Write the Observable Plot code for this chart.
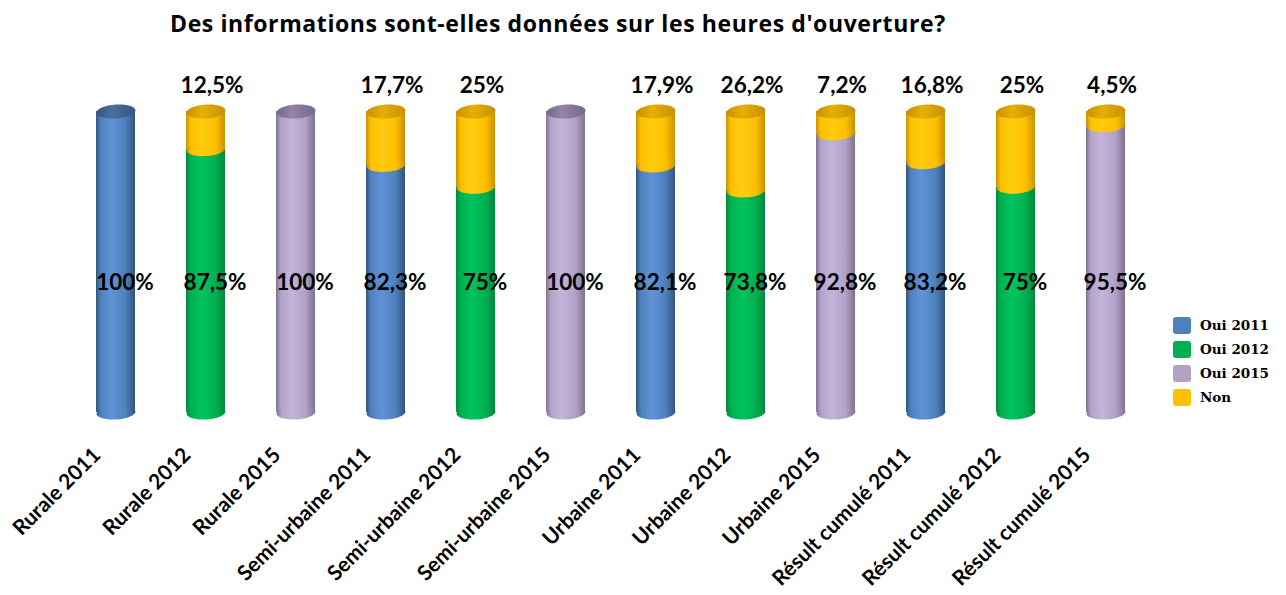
<!DOCTYPE html>
<html>
<head>
<meta charset="utf-8">
<script src="https://cdn.jsdelivr.net/npm/d3@7"></script>
<script src="https://cdn.jsdelivr.net/npm/@observablehq/plot@0.6"></script>
<style>
  html, body { margin: 0; padding: 0; background: #fff; }
  #wrap { position: relative; width: 1286px; height: 595px; overflow: hidden; }
  #title { position: absolute; left: 170px; top: 7px; font-family: "Open Sans", Lato, sans-serif; font-weight: 700; font-size: 23px; letter-spacing: 0.6px; color: #000; white-space: nowrap; }
  #chart { position: absolute; left: 0; top: 50px; }
  #legend { position: absolute; left: 1173px; top: 313px; font-family: "DejaVu Serif", "Liberation Serif", serif; font-weight: 700; font-size: 13.5px; color: #000; }
  .li { display: flex; align-items: center; height: 24px; }
  .sw { width: 18px; height: 17px; border-radius: 3px; margin-right: 9px; }
</style>
</head>
<body>
<div id="wrap">
  <div id="title">Des informations sont-elles données sur les heures d'ouverture?</div>
  <div id="chart"></div>
  <div id="legend"></div>
</div>
<script>
const categories = ["Rurale 2011", "Rurale 2012", "Rurale 2015", "Semi-urbaine 2011", "Semi-urbaine 2012", "Semi-urbaine 2015", "Urbaine 2011", "Urbaine 2012", "Urbaine 2015", "Résult cumulé 2011", "Résult cumulé 2012", "Résult cumulé 2015"];
const ouiSeries = ["Oui 2011", "Oui 2012", "Oui 2015", "Oui 2011", "Oui 2012", "Oui 2015", "Oui 2011", "Oui 2012", "Oui 2015", "Oui 2011", "Oui 2012", "Oui 2015"];
const ouiValues = [100, 87.5, 100, 82.3, 75, 100, 82.1, 73.8, 92.8, 83.2, 75, 95.5];
const nonValues = [0, 12.5, 0, 17.7, 25, 0, 17.9, 26.2, 7.2, 16.8, 25, 4.5];
const legendSeries = ["Oui 2011", "Oui 2012", "Oui 2015", "Non"];

const palette = {
  "Oui 2011": {base: "#4f81bd", dark: "#30557f", light: "#5f93d6", cap: "#4a6fa0", capDark: "#36557d"},
  "Oui 2012": {base: "#00b050", dark: "#008a3c", light: "#00c45e", cap: "#00a04a", capDark: "#007e38"},
  "Oui 2015": {base: "#b3a2c7", dark: "#7f7190", light: "#c4b4d9", cap: "#9384a8", capDark: "#76688a"},
  "Non":      {base: "#ffc000", dark: "#c99200", light: "#ffcc10", cap: "#e8b000", capDark: "#c49000"}
};
const gid = s => "g" + s.replace(/\s/g, "");

const fmt = v => String(v).replace(".", ",") + "%";

const rows = categories.map((c, i) => ({
  cat: c, series: ouiSeries[i], oui: ouiValues[i], non: nonValues[i]
}));
const nonRows = rows.filter(d => d.non > 0);

const RX = 19.5, RY = 7, TILT = -4 * Math.PI / 180;
const ellipse = {
  draw(ctx) {
    const k = 0.5523, rx = RX, ry = RY;
    const c = Math.cos(TILT), s = Math.sin(TILT);
    const P = (x, y) => [x * c - y * s, x * s + y * c];
    const m = P(rx, 0);
    ctx.moveTo(m[0], m[1]);
    const seg = (a, b, e) => { const A = P(...a), B = P(...b), E = P(...e); ctx.bezierCurveTo(A[0], A[1], B[0], B[1], E[0], E[1]); };
    seg([rx, ry * k], [rx * k, ry], [0, ry]);
    seg([-rx * k, ry], [-rx, ry * k], [-rx, 0]);
    seg([-rx, -ry * k], [-rx * k, -ry], [0, -ry]);
    seg([rx * k, -ry], [rx, -ry * k], [rx, 0]);
    ctx.closePath();
  }
};

const labelFont = {fontFamily: "Lato, 'Open Sans', sans-serif", fontWeight: 700, fontSize: 22.5, fill: "#000"};

const chart = Plot.plot({
  width: 1286,
  height: 545,
  marginLeft: 48,
  marginRight: 114,
  marginTop: 61,
  marginBottom: 183,
  style: {background: "transparent", overflow: "visible"},
  x: {domain: categories, paddingInner: 0.569, paddingOuter: 0.5, label: null},
  y: {domain: [0, 100], axis: null},
  color: {type: "identity"},
  marks: [
    // Oui bodies
    Plot.barY(rows, {x: "cat", y1: 0, y2: "oui", fill: d => `url(#${gid(d.series)})`}),
    Plot.dot(rows, {x: "cat", y: () => 0, symbol: ellipse, fill: d => `url(#${gid(d.series)})`}),
    // Non bodies
    Plot.barY(nonRows, {x: "cat", y1: "oui", y2: d => d.oui + d.non, fill: () => `url(#${gid("Non")})`}),
    Plot.dot(nonRows, {x: "cat", y: "oui", symbol: ellipse, fill: () => `url(#${gid("Non")})`}),
    // top caps
    Plot.dot(rows, {x: "cat", y: d => d.oui + d.non, symbol: ellipse, fill: d => `url(#cap${gid(d.non > 0 ? "Non" : d.series)})`}),
    // labels
    Plot.text(nonRows, {x: "cat", y: d => d.oui + d.non, text: d => fmt(d.non), dy: -26, dx: 6, ...labelFont}),
    Plot.text(rows, {x: "cat", frameAnchor: "middle", text: d => fmt(d.oui), dy: 21, dx: 9, ...labelFont}),
    Plot.axisX({tickSize: 0, tickRotate: -45, tickPadding: 39, dx: -19, fontFamily: "Lato, 'Open Sans', sans-serif", fontWeight: 700, fontSize: 21, fill: "#000", label: null})
  ]
});

// gradients
const ns = "http://www.w3.org/2000/svg";
const defs = document.createElementNS(ns, "defs");
for (const s of legendSeries) {
  const p = palette[s];
  const body = document.createElementNS(ns, "linearGradient");
  body.setAttribute("id", gid(s));
  body.setAttribute("x1", "0"); body.setAttribute("x2", "1"); body.setAttribute("y1", "0"); body.setAttribute("y2", "0");
  [[0, p.dark], [0.12, p.base], [0.4, p.light], [0.75, p.base], [1, p.dark]].forEach(([o, c]) => {
    const st = document.createElementNS(ns, "stop");
    st.setAttribute("offset", o); st.setAttribute("stop-color", c); body.appendChild(st);
  });
  defs.appendChild(body);
  const cap = document.createElementNS(ns, "linearGradient");
  cap.setAttribute("id", "cap" + gid(s));
  cap.setAttribute("x1", "0"); cap.setAttribute("x2", "1"); cap.setAttribute("y1", "0"); cap.setAttribute("y2", "0");
  [[0, p.capDark], [0.4, p.cap], [1, p.capDark]].forEach(([o, c]) => {
    const st = document.createElementNS(ns, "stop");
    st.setAttribute("offset", o); st.setAttribute("stop-color", c); cap.appendChild(st);
  });
  defs.appendChild(cap);
}
chart.insertBefore(defs, chart.firstChild);
document.getElementById("chart").appendChild(chart);

// legend
const leg = document.getElementById("legend");
for (const s of legendSeries) {
  const li = document.createElement("div"); li.className = "li";
  const sw = document.createElement("div"); sw.className = "sw"; sw.style.background = palette[s].base;
  const t = document.createElement("span"); t.textContent = s;
  li.appendChild(sw); li.appendChild(t); leg.appendChild(li);
}
</script>
</body>
</html>
